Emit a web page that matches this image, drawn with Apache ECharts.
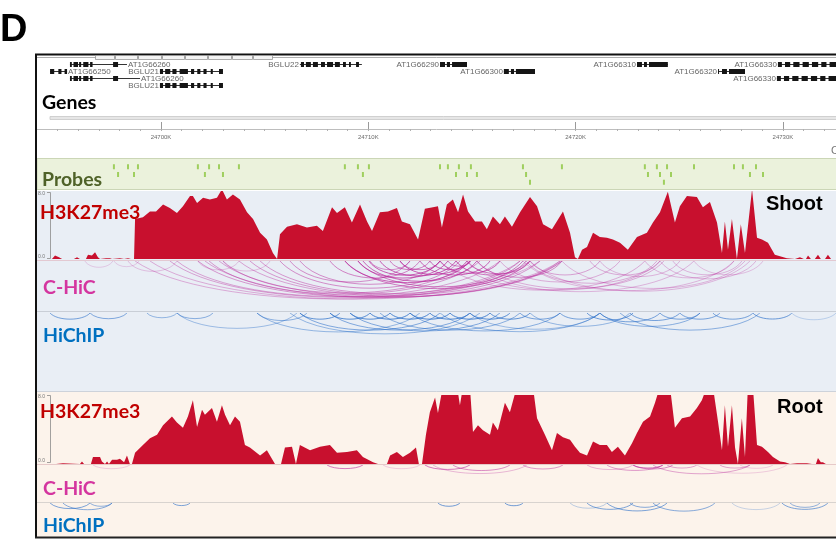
<!DOCTYPE html>
<html>
<head>
<meta charset="utf-8">
<script src="https://cdn.jsdelivr.net/npm/echarts@6/dist/echarts.min.js"></script>
<style>
  html, body { margin: 0; padding: 0; background: #fff; }
  #chart { width: 836px; height: 539px; }
</style>
</head>
<body>
<div id="chart"></div>
<script>
// Genomic window shown (kb, chr1)
const regionStartKb = 24694.02;
const regionEndKb = 24732.56;

// Ruler labels (kb)
const rulerLabelsKb = [24700, 24710, 24720, 24730];

// Gene models: name, display row, body start/end (kb), label side, exon blocks
const geneNames = ['AT1G66260', 'BGLU22', 'AT1G66290', 'AT1G66310', 'AT1G66330', 'AT1G66250', 'BGLU21', 'AT1G66300', 'AT1G66320', 'AT1G66260', 'AT1G66330', 'BGLU21'];
const geneRows = [0, 0, 0, 0, 0, 1, 1, 1, 1, 2, 2, 3];
const geneStarts = [24695.61, 24706.70, 24713.46, 24722.96, 24729.76, 24694.65, 24699.95, 24716.54, 24726.87, 24695.61, 24729.71, 24699.95];
const geneEnds = [24698.36, 24709.69, 24714.76, 24724.45, 24732.56, 24695.47, 24702.99, 24718.04, 24728.17, 24698.99, 24732.56, 24702.99];
const geneLabelSide = ['right', 'left', 'left', 'left', 'left', 'right', 'left', 'left', 'left', 'right', 'left', 'left'];
const geneExons = [
  [[24695.61, 24695.70], [24695.78, 24696.00], [24696.05, 24696.15], [24696.25, 24696.50], [24696.58, 24696.70], [24697.69, 24697.93]],
  [[24706.75, 24706.90], [24706.99, 24707.23], [24707.33, 24707.57], [24707.72, 24707.91], [24708.01, 24708.30], [24708.39, 24708.63], [24708.78, 24708.92], [24709.07, 24709.16], [24709.41, 24709.55]],
  [[24713.46, 24713.70], [24713.79, 24713.94], [24714.04, 24714.76]],
  [[24722.96, 24723.20], [24723.30, 24723.44], [24723.54, 24724.45]],
  [[24729.76, 24729.95], [24730.10, 24730.35], [24730.50, 24730.80], [24730.95, 24731.25], [24731.40, 24731.70], [24731.85, 24732.10], [24732.25, 24732.56]],
  [[24694.65, 24694.85], [24695.05, 24695.20], [24695.35, 24695.47]],
  [[24699.95, 24700.10], [24700.20, 24700.45], [24700.55, 24700.75], [24700.90, 24701.30], [24701.45, 24701.60], [24701.75, 24701.90], [24702.05, 24702.20], [24702.40, 24702.50], [24702.80, 24702.99]],
  [[24716.54, 24716.78], [24716.88, 24717.03], [24717.12, 24718.04]],
  [[24726.87, 24726.91], [24727.06, 24727.30], [24727.40, 24728.17]],
  [[24695.61, 24695.70], [24695.78, 24696.00], [24696.05, 24696.15], [24696.25, 24696.50], [24696.58, 24696.70], [24697.69, 24697.93]],
  [[24729.71, 24729.90], [24730.05, 24730.30], [24730.45, 24730.75], [24730.90, 24731.20], [24731.35, 24731.65], [24731.80, 24732.05], [24732.20, 24732.56]],
  [[24699.95, 24700.10], [24700.20, 24700.45], [24700.55, 24700.75], [24700.90, 24701.30], [24701.45, 24701.60], [24701.75, 24701.90], [24702.05, 24702.20], [24702.40, 24702.50], [24702.80, 24702.99]]
];

// Capture probes: position (kb) and stagger row
const probePosKb = [24697.73, 24698.41, 24698.89, 24701.78, 24702.32, 24702.80, 24703.76, 24708.87, 24709.50, 24710.03, 24713.46, 24713.84, 24714.37, 24714.95, 24717.46, 24719.34, 24723.34, 24723.92, 24724.41, 24725.71, 24727.64, 24728.07, 24728.70,
  24697.93, 24698.70, 24702.12, 24702.99, 24709.74, 24714.23, 24714.76, 24715.24, 24717.61, 24723.49, 24724.07, 24724.60, 24728.41, 24729.04,
  24717.80, 24724.26];
const probeRow = [1, 1, 1, 1, 1, 1, 1, 1, 1, 1, 1, 1, 1, 1, 1, 1, 1, 1, 1, 1, 1, 1, 1,
  2, 2, 2, 2, 2, 2, 2, 2, 2, 2, 2, 2, 2, 2,
  3, 3];

// H3K27me3 signal, shoot: [kb, signal]
const shootH3K27me3 = [
  [24694.02, 0], [24694.74, 0], [24694.89, 0.4], [24695.08, 0.2], [24695.23, 0], [24695.80, 0], [24695.95, 0.2], [24696.09, 0],
  [24696.38, 0], [24696.48, 0.5], [24696.67, 0.4], [24696.82, 0.8], [24696.96, 0.2], [24697.06, 0], [24697.35, 0.1], [24697.54, 0.1],
  [24697.64, 0], [24698.02, 0.1], [24698.22, 0], [24698.41, 0.1], [24698.55, 0], [24698.70, 0], [24698.75, 4.7], [24699.13, 4.9],
  [24699.47, 5.6], [24699.76, 5.6], [24700.10, 6.4], [24700.43, 6.0], [24700.77, 5.4], [24701.06, 6.2], [24701.40, 7.4], [24701.54, 7.4],
  [24701.74, 6.6], [24702.03, 7.2], [24702.36, 7.0], [24702.70, 7.2], [24702.94, 8.2], [24703.18, 7.0], [24703.47, 7.6], [24703.81, 7.0],
  [24704.15, 5.5], [24704.44, 4.7], [24704.78, 3.1], [24705.11, 2.3], [24705.40, 0.7], [24705.60, 0], [24705.74, 2.9], [24706.08, 3.8],
  [24706.56, 4.1], [24707.04, 3.7], [24707.52, 3.9], [24707.81, 3.3], [24708.25, 6.1], [24708.49, 5.4], [24708.87, 6.1], [24709.21, 4.3],
  [24709.60, 6.4], [24709.94, 4.4], [24710.18, 3.3], [24710.56, 5.5], [24710.95, 5.6], [24711.38, 6.0], [24711.62, 4.4], [24712.01, 4.1],
  [24712.40, 2.3], [24712.73, 5.9], [24713.12, 6.1], [24713.36, 6.2], [24713.55, 3.7], [24713.79, 6.4], [24714.08, 7.0], [24714.33, 5.5],
  [24714.57, 7.6], [24714.81, 5.6], [24715.15, 4.4], [24715.48, 4.4], [24715.72, 3.5], [24716.01, 5.0], [24716.35, 4.1], [24716.59, 5.0],
  [24716.93, 3.8], [24717.32, 5.5], [24717.80, 7.3], [24718.14, 6.2], [24718.43, 4.1], [24718.86, 3.5], [24719.39, 5.6], [24719.73, 3.1],
  [24719.97, 0.2], [24720.11, 0], [24720.31, 1.1], [24720.55, 1.4], [24720.84, 3.1], [24721.17, 2.6], [24721.51, 2.5], [24721.80, 2.3],
  [24722.14, 1.9], [24722.52, 1.1], [24722.96, 2.6], [24723.44, 3.1], [24723.73, 4.3], [24724.07, 5.5], [24724.45, 7.9], [24724.79, 4.3],
  [24725.03, 6.2], [24725.37, 7.4], [24725.85, 7.3], [24726.14, 6.1], [24726.48, 6.7], [24726.82, 4.3], [24727.06, 0.7], [24727.20, 4.4],
  [24727.35, 1.1], [24727.54, 4.7], [24727.78, 0], [24727.97, 4.1], [24728.17, 0.7], [24728.51, 8.2], [24728.75, 2.5], [24728.99, 2.3],
  [24729.28, 1.9], [24729.61, 0.5], [24730.19, 0.1], [24730.58, 0], [24730.82, 0.2], [24731.01, 0], [24731.11, 0], [24731.21, 0.4],
  [24731.35, 0], [24731.54, 0], [24731.69, 0.5], [24731.83, 0], [24732.03, 0], [24732.17, 0.5], [24732.32, 0], [24732.56, 0]
];

// H3K27me3 signal, root: [kb, signal]
const rootH3K27me3 = [
  [24694.02, 0], [24694.94, 0], [24694.98, 0.1], [24695.27, 0.1], [24695.32, 0], [24696.09, 0], [24696.19, 0.3], [24696.29, 0],
  [24696.62, 0], [24696.72, 0.8], [24697.06, 0.8], [24697.15, 0.3], [24697.30, 0], [24697.40, 0.3], [24697.49, 0], [24697.64, 0.5],
  [24697.88, 0.5], [24698.02, 0.6], [24698.22, 0.2], [24698.36, 1.0], [24698.50, 0], [24698.60, 0], [24698.75, 1.3], [24699.13, 2.2],
  [24699.47, 3.0], [24699.81, 3.4], [24700.10, 4.5], [24700.53, 5.5], [24700.77, 4.8], [24701.06, 4.2], [24701.30, 5.5], [24701.54, 7.4],
  [24701.74, 4.3], [24701.98, 6.3], [24702.12, 5.7], [24702.46, 6.5], [24702.70, 4.9], [24702.94, 6.8], [24703.09, 5.7], [24703.33, 4.5],
  [24703.57, 5.5], [24703.81, 4.9], [24704.05, 2.2], [24704.29, 1.9], [24704.78, 1.0], [24705.11, 1.6], [24705.35, 0.6], [24705.50, 0],
  [24705.79, 0], [24705.98, 1.9], [24706.32, 2.0], [24706.51, 0], [24706.70, 2.2], [24707.19, 1.6], [24707.67, 2.0], [24708.15, 2.2],
  [24708.49, 1.3], [24708.97, 1.4], [24709.45, 1.6], [24709.74, 0.8], [24710.23, 0.2], [24710.47, 0], [24710.90, 0], [24711.05, 1.0],
  [24711.38, 1.4], [24711.67, 0.8], [24712.01, 1.3], [24712.30, 1.9], [24712.44, 0], [24712.59, 0], [24712.78, 3.4], [24712.97, 6.0],
  [24713.22, 7.7], [24713.36, 5.9], [24713.60, 9], [24714.28, 9], [24714.42, 6.8], [24714.57, 9], [24714.90, 9], [24715.05, 3.7],
  [24715.29, 4.5], [24715.53, 3.9], [24715.87, 3.4], [24716.01, 4.8], [24716.25, 3.9], [24716.59, 7.1], [24716.83, 6.0], [24717.17, 9],
  [24717.94, 9], [24718.14, 5.3], [24718.52, 3.4], [24718.86, 1.6], [24719.10, 3.6], [24719.39, 3.1], [24719.73, 2.8], [24719.97, 2.0],
  [24720.21, 1.3], [24720.55, 1.0], [24720.84, 2.6], [24721.17, 2.2], [24721.51, 2.2], [24721.75, 1.4], [24722.04, 2.0], [24722.38, 1.0],
  [24722.72, 2.4], [24722.96, 3.6], [24723.25, 4.9], [24723.59, 5.5], [24723.83, 7.1], [24724.07, 9], [24724.55, 9], [24724.79, 4.2],
  [24725.13, 5.3], [24725.52, 5.5], [24725.85, 6.5], [24726.09, 7.4], [24726.34, 9], [24726.62, 9], [24726.87, 4.9], [24727.06, 1.6],
  [24727.20, 6.8], [24727.35, 2.0], [24727.54, 6.8], [24727.69, 1.9], [24727.83, 0], [24728.02, 5.3], [24728.17, 0.8], [24728.31, 9],
  [24728.55, 9], [24728.75, 2.2], [24728.99, 2.0], [24729.28, 1.4], [24729.52, 0.8], [24729.86, 0.3], [24730.10, 0.2], [24730.34, 0],
  [24730.68, 0.1], [24731.16, 0.1], [24731.40, 0], [24731.59, 0], [24731.69, 0.7], [24731.83, 0.2], [24731.93, 0.2], [24732.07, 0],
  [24732.27, 0], [24732.36, 0.2], [24732.56, 0]
];

// Chromatin interactions: [anchor1 kb, anchor2 kb, relative strength]
const shootCHiC = [
  [24698.75, 24718.28, 0.35], [24699.47, 24719.25, 0.35], [24700.43, 24717.32, 0.4], [24700.77, 24716.35, 0.4],
  [24701.78, 24717.80, 0.45], [24702.12, 24719.34, 0.4], [24702.32, 24715.39, 0.45], [24702.80, 24719.25, 0.4],
  [24702.99, 24714.90, 0.45], [24703.76, 24719.34, 0.4], [24704.29, 24718.28, 0.45], [24704.78, 24717.32, 0.45],
  [24705.74, 24714.42, 0.5], [24706.22, 24712.01, 0.5], [24706.70, 24713.46, 0.5], [24708.15, 24712.49, 0.55],
  [24708.87, 24714.90, 0.7], [24709.50, 24713.84, 0.7], [24709.74, 24715.24, 0.7], [24710.03, 24713.46, 0.75],
  [24710.56, 24714.23, 0.75], [24711.53, 24714.76, 0.75], [24708.87, 24717.80, 0.6], [24709.50, 24717.46, 0.6],
  [24712.49, 24715.87, 0.7], [24713.46, 24716.35, 0.7], [24714.23, 24717.61, 0.6], [24714.76, 24717.80, 0.6],
  [24715.24, 24719.34, 0.5], [24712.97, 24714.90, 0.7], [24713.84, 24714.95, 0.6], [24711.53, 24713.46, 0.6],
  [24710.08, 24712.01, 0.5], [24711.05, 24712.97, 0.6],
  [24713.46, 24723.34, 0.35], [24714.23, 24724.07, 0.35], [24714.76, 24725.71, 0.3], [24715.24, 24724.26, 0.35],
  [24717.46, 24727.64, 0.3], [24717.80, 24728.41, 0.3], [24716.35, 24722.14, 0.35], [24717.61, 24723.92, 0.35],
  [24719.34, 24728.17, 0.3], [24721.17, 24725.03, 0.3], [24723.34, 24727.64, 0.3], [24724.07, 24728.70, 0.3],
  [24724.69, 24728.02, 0.3], [24725.71, 24729.04, 0.25], [24717.80, 24721.17, 0.4], [24720.69, 24724.07, 0.35],
  [24696.33, 24697.68, 0.2], [24697.73, 24698.94, 0.2], [24698.41, 24700.77, 0.25], [24701.78, 24703.76, 0.25],
  [24702.99, 24705.26, 0.25]
];
const shootHiChIP = [
  [24694.65, 24696.58, 0.6], [24696.58, 24698.36, 0.55], [24699.32, 24700.77, 0.45], [24700.77, 24702.51, 0.5],
  [24700.77, 24706.56, 0.4], [24704.63, 24707.04, 0.5],
  [24706.70, 24708.63, 0.7], [24708.15, 24710.08, 0.75], [24709.12, 24711.05, 0.75], [24710.08, 24712.01, 0.8],
  [24711.05, 24712.97, 0.8], [24712.01, 24713.94, 0.8], [24712.97, 24714.90, 0.8], [24713.94, 24715.87, 0.8],
  [24714.90, 24716.83, 0.75], [24715.87, 24717.80, 0.7],
  [24706.70, 24713.46, 0.55], [24708.15, 24714.90, 0.55], [24709.12, 24716.35, 0.55], [24710.56, 24717.32, 0.5],
  [24704.63, 24712.49, 0.45], [24706.22, 24715.39, 0.45], [24712.01, 24719.25, 0.5], [24713.46, 24721.17, 0.45],
  [24714.90, 24721.17, 0.4], [24717.80, 24722.62, 0.45],
  [24717.32, 24719.25, 0.6], [24719.25, 24721.17, 0.6], [24720.55, 24722.77, 0.65], [24721.17, 24724.07, 0.6],
  [24722.62, 24725.03, 0.6], [24724.07, 24726.00, 0.6], [24722.14, 24728.89, 0.5], [24721.17, 24726.00, 0.5],
  [24725.03, 24726.96, 0.6], [24726.62, 24728.55, 0.6], [24728.55, 24730.43, 0.65], [24730.43, 24732.56, 0.25]
];
const rootCHiC = [
  [24696.72, 24698.50, 0.2], [24708.01, 24709.74, 0.6], [24710.71, 24712.49, 0.2], [24712.73, 24714.90, 0.6],
  [24714.08, 24716.83, 0.5], [24713.12, 24717.65, 0.3], [24717.46, 24719.39, 0.45], [24720.55, 24722.77, 0.3],
  [24721.51, 24724.21, 0.45], [24722.77, 24724.21, 0.65], [24722.77, 24724.69, 0.5], [24723.73, 24728.41, 0.4],
  [24724.41, 24725.85, 0.4], [24726.96, 24728.41, 0.4], [24727.93, 24729.52, 0.2], [24725.85, 24730.19, 0.2]
];
const rootHiChIP = [
  [24694.65, 24696.58, 0.6], [24695.27, 24697.64, 0.55], [24696.58, 24697.64, 0.5], [24700.58, 24701.40, 0.6],
  [24713.36, 24714.42, 0.65], [24716.59, 24717.46, 0.65], [24719.73, 24721.51, 0.3], [24720.55, 24722.77, 0.6],
  [24721.51, 24724.41, 0.6], [24722.62, 24724.07, 0.55], [24723.73, 24726.72, 0.55], [24727.54, 24729.86, 0.25],
  [24729.95, 24732.17, 0.6], [24730.34, 24731.79, 0.5]
];

// ---------- layout ----------
const PLOT_LEFT = 37, PLOT_WIDTH = 799;
const gridBoxes = [
  { top: 58, height: 56 },   // 0 genes
  { top: 100, height: 29 },  // 1 ruler (major)
  { top: 100, height: 29 },  // 2 ruler (minor)
  { top: 159, height: 31 },  // 3 probes
  { top: 191, height: 68 },  // 4 shoot H3K27me3
  { top: 261, height: 50 },  // 5 shoot C-HiC
  { top: 313, height: 78 },  // 6 shoot HiChIP
  { top: 395, height: 69 },  // 7 root H3K27me3
  { top: 465, height: 37 },  // 8 root C-HiC
  { top: 503, height: 34 }   // 9 root HiChIP
];
const grid = gridBoxes.map(g => ({ left: PLOT_LEFT, width: PLOT_WIDTH, top: g.top, height: g.height, containLabel: false }));

const minorTicks = [];
for (let k = 24695; k <= 24732; k++) minorTicks.push(k);

const xAxis = gridBoxes.map((g, i) => {
  const ax = { type: 'value', gridIndex: i, min: regionStartKb, max: regionEndKb, show: false, splitLine: { show: false } };
  if (i === 1) {
    Object.assign(ax, {
      show: true,
      axisLine: { show: true, lineStyle: { color: '#bdbdbd', width: 1 } },
      axisTick: { show: true, inside: true, length: 7, customValues: rulerLabelsKb, lineStyle: { color: '#9a9a9a', width: 1 } },
      axisLabel: { show: true, customValues: rulerLabelsKb, margin: 5, fontSize: 6, color: '#6a6a6a', fontFamily: 'Liberation Sans',
        formatter: v => v + 'K' }
    });
  }
  if (i === 2) {
    Object.assign(ax, {
      show: true,
      axisLine: { show: false },
      axisTick: { show: true, length: 2, customValues: minorTicks, lineStyle: { color: '#b0b0b0', width: 1 } },
      axisLabel: { show: false }
    });
  }
  return ax;
});

const yRanges = [[0, 8, true], [0, 1, false], [0, 1, false], [0, 4, true], [0, 8, false], [0, 1, true], [0, 1, true], [0, 8, false], [0, 1, true], [0, 1, true]];
const yAxis = yRanges.map((r, i) => ({ type: 'value', gridIndex: i, min: r[0], max: r[1], inverse: r[2], show: false, splitLine: { show: false } }));

// ---------- renderers ----------
function geneRenderer(params, api) {
  const idx = api.value(3);
  const rowY = api.value(2) + 0.85;
  const s = api.coord([api.value(0), rowY]);
  const e = api.coord([api.value(1), rowY]);
  const y = Math.round(s[1]) + 0.5;
  const children = [{ type: 'line', shape: { x1: s[0], y1: y, x2: e[0], y2: y }, style: { stroke: '#333', lineWidth: 1 } }];
  geneExons[idx].forEach(ex => {
    const a = api.coord([ex[0], rowY])[0];
    const b = api.coord([ex[1], rowY])[0];
    children.push({ type: 'rect', shape: { x: a, y: y - 2.5, width: Math.max(1, b - a), height: 5 }, style: { fill: '#151515' } });
  });
  const right = geneLabelSide[idx] === 'right';
  children.push({
    type: 'text',
    style: {
      text: geneNames[idx], x: right ? e[0] + 1 : s[0] - 1, y: y,
      align: right ? 'left' : 'right', verticalAlign: 'middle',
      textAlign: right ? 'left' : 'right', textVerticalAlign: 'middle',
      fontSize: 8, fontFamily: 'Liberation Sans', fill: '#666'
    }
  });
  return { type: 'group', children };
}

function arcRenderer(color, maxDepth, scale) {
  return function (params, api) {
    const p1 = api.coord([api.value(0), 0]);
    const p2 = api.coord([api.value(1), 0]);
    const span = Math.abs(p2[0] - p1[0]);
    const depth = maxDepth * (1 - Math.exp(-span / scale));
    const c = depth * 4 / 3;
    const inset = span * 0.18;
    return {
      type: 'bezierCurve',
      shape: { x1: p1[0], y1: p1[1], x2: p2[0], y2: p2[1], cpx1: p1[0] + inset, cpy1: p1[1] + c, cpx2: p2[0] - inset, cpy2: p2[1] + c },
      style: { stroke: color, fill: 'none', lineWidth: 1, opacity: api.value(2) }
    };
  };
}

function arcSeries(data, gridIdx, color, maxDepth, scale) {
  return {
    type: 'custom', xAxisIndex: gridIdx, yAxisIndex: gridIdx, silent: true, clip: true,
    renderItem: arcRenderer(color, maxDepth, scale),
    encode: { x: [0, 1] },
    data: data
  };
}

function signalSeries(data, gridIdx) {
  return {
    type: 'line', xAxisIndex: gridIdx, yAxisIndex: gridIdx, data: data, silent: true, clip: true,
    showSymbol: false, symbol: 'none', smooth: false, animation: false,
    lineStyle: { width: 0, color: '#c8102e' },
    areaStyle: { color: '#c8102e', opacity: 1 }
  };
}

const geneData = geneNames.map((n, i) => [geneStarts[i], geneEnds[i], geneRows[i], i]);
const probeData = probePosKb.map((p, i) => [p, probeRow[i]]);

const series = [
  { type: 'custom', xAxisIndex: 0, yAxisIndex: 0, silent: true, clip: true, renderItem: geneRenderer, encode: { x: [0, 1], y: 2 }, data: geneData },
  { type: 'scatter', xAxisIndex: 3, yAxisIndex: 3, silent: true, symbol: 'rect', symbolSize: [2, 5], itemStyle: { color: '#8cc63e' }, data: probeData },
  signalSeries(shootH3K27me3, 4),
  arcSeries(shootCHiC, 5, 'rgb(186,40,155)', 42, 173),
  arcSeries(shootHiChIP, 6, 'rgb(38,108,200)', 34, 200),
  signalSeries(rootH3K27me3, 7),
  arcSeries(rootCHiC, 8, 'rgb(186,40,155)', 30, 280),
  arcSeries(rootHiChIP, 9, 'rgb(38,108,200)', 24, 150)
];

// ---------- panel decoration ----------
const W = 836;
const graphic = [
  // track backgrounds
  { type: 'rect', z: 0, shape: { x: 37, y: 158.5, width: 800, height: 31 }, style: { fill: '#ebf2dc', stroke: '#cbd6b6', lineWidth: 1 } },
  { type: 'rect', z: 0, shape: { x: 37, y: 191, width: 800, height: 201 }, style: { fill: '#e9eef5' } },
  { type: 'rect', z: 0, shape: { x: 37, y: 392, width: 800, height: 146 }, style: { fill: '#fcf3eb' } },
  // ruler band
  { type: 'rect', z: 0, shape: { x: 50, y: 116.5, width: 790, height: 3 }, style: { fill: '#e6e6e6', stroke: '#c6c6c6', lineWidth: 0.8 } },
  // track separators
  { type: 'line', z: 1, shape: { x1: 37, y1: 260.5, x2: W, y2: 260.5 }, style: { stroke: '#e3c9d2', lineWidth: 1 } },
  { type: 'line', z: 1, shape: { x1: 37, y1: 311.5, x2: W, y2: 311.5 }, style: { stroke: '#c9ced6', lineWidth: 1 } },
  { type: 'line', z: 1, shape: { x1: 37, y1: 391.5, x2: W, y2: 391.5 }, style: { stroke: '#cdd2da', lineWidth: 1 } },
  { type: 'line', z: 1, shape: { x1: 37, y1: 464.5, x2: W, y2: 464.5 }, style: { stroke: '#e6c9c9', lineWidth: 1 } },
  { type: 'line', z: 1, shape: { x1: 37, y1: 502.5, x2: W, y2: 502.5 }, style: { stroke: '#d8d3cf', lineWidth: 1 } },
  // signal scale brackets
  { type: 'polyline', z: 5, shape: { points: [[47, 192.5], [50.5, 192.5], [50.5, 258.5], [47, 258.5]] }, style: { stroke: '#8a8a8a', fill: 'none', lineWidth: 0.8 } },
  { type: 'polyline', z: 5, shape: { points: [[47, 395.5], [50.5, 395.5], [50.5, 462.5], [47, 462.5]] }, style: { stroke: '#8a8a8a', fill: 'none', lineWidth: 0.8 } },
  // outer frame
  { type: 'line', z: 50, shape: { x1: 35, y1: 54.5, x2: W, y2: 54.5 }, style: { stroke: '#111', lineWidth: 2 } },
  { type: 'line', z: 50, shape: { x1: 37, y1: 57.5, x2: W, y2: 57.5 }, style: { stroke: '#9a9a9a', lineWidth: 0.8 } },
  { type: 'line', z: 50, shape: { x1: 36, y1: 54, x2: 36, y2: 538 }, style: { stroke: '#111', lineWidth: 2 } },
  { type: 'line', z: 50, shape: { x1: 35, y1: 537.5, x2: W, y2: 537.5 }, style: { stroke: '#222', lineWidth: 2 } }
];

// tabs hanging from the top edge of the browser panel
[95, 115, 138, 162, 185, 208, 232, 253].forEach((x, i, arr) => {
  const next = i < arr.length - 1 ? arr[i + 1] : 273;
  graphic.push({ type: 'rect', z: 51, shape: { x: x + 0.5, y: 55.5, width: next - x - 1, height: 4 }, style: { fill: '#f4f4f4', stroke: '#8a8a8a', lineWidth: 0.7 } });
});

function addText(text, x, y, color, size, family, weight, align) {
  graphic.push({
    type: 'text', z: 60,
    style: {
      text, x, y, fill: color, fontSize: size, fontFamily: family, fontWeight: weight || 'normal',
      align: align || 'left', verticalAlign: 'middle', textAlign: align || 'left', textVerticalAlign: 'middle'
    }
  });
}

addText('D', 0, 31, '#000', 38, 'Liberation Sans', 'bold');
addText('Genes', 42, 103, '#000', 19.5, 'Lato', 'bold');
addText('Probes', 42, 180, '#4f6228', 19.5, 'Lato', 'bold');
addText('H3K27me3', 40, 213, '#c00000', 19.5, 'Lato', 'bold');
addText('C-HiC', 43, 288, '#d4359f', 19.5, 'Lato', 'bold');
addText('HiChIP', 43, 336, '#0070c0', 19.5, 'Lato', 'bold');
addText('H3K27me3', 40, 412, '#c00000', 19.5, 'Lato', 'bold');
addText('C-HiC', 43, 489, '#d4359f', 19.5, 'Lato', 'bold');
addText('HiChIP', 43, 526, '#0070c0', 19.5, 'Lato', 'bold');
addText('Shoot', 766, 204, '#000', 20, 'Liberation Sans', 'bold');
addText('Root', 777, 407, '#000', 20, 'Liberation Sans', 'bold');
addText('C', 831, 151, '#777', 11, 'Liberation Sans');
addText('8.0', 38, 194, '#777', 5, 'Liberation Sans');
addText('0.0', 38, 257, '#777', 5, 'Liberation Sans');
addText('8.0', 38, 397, '#777', 5, 'Liberation Sans');
addText('0.0', 38, 461, '#777', 5, 'Liberation Sans');

const chart = echarts.init(document.getElementById('chart'), null, { renderer: 'canvas' });
chart.setOption({
  animation: false,
  backgroundColor: '#fff',
  grid, xAxis, yAxis, series, graphic
});
</script>
</body>
</html>
